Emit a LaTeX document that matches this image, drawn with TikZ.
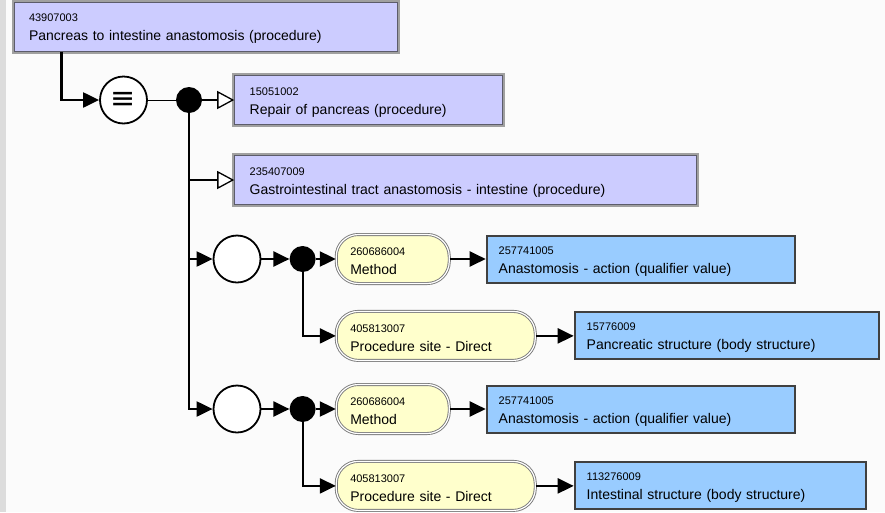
\documentclass[tikz,border=0pt]{standalone}
\usepackage{fontspec}
\setmainfont{Liberation Sans}
\newfontfamily\symfont{DejaVu Sans}
\usetikzlibrary{arrows.meta,positioning}

\definecolor{conceptfill}{HTML}{CCCCFF}
\definecolor{valuefill}{HTML}{99CCFF}
\definecolor{attrfill}{HTML}{FFFFCC}
\definecolor{framegray}{HTML}{A0A0A0}
\definecolor{framedark}{HTML}{5C5C6A}
\definecolor{pillgray}{HTML}{7A7A7A}
\definecolor{valueedge}{HTML}{404040}
\definecolor{canvas}{HTML}{FBFBFB}
\definecolor{sidebar}{HTML}{DCDCDC}

\newcommand{\sctid}[1]{{\fontsize{11}{14}\selectfont\rule{0pt}{12pt}#1}\\}

\tikzset{
  concept/.style={rectangle, fill=conceptfill, draw=framedark, line width=1pt,
    preaction={draw=framegray, line width=5pt},
    minimum height=49pt, inner xsep=15pt, text width=#1, align=left},
  value/.style={rectangle, fill=valuefill, draw=valueedge, line width=2pt,
    minimum height=47pt, inner xsep=12pt, text width=#1, align=left},
  attr/.style={rectangle, rounded corners=22pt, fill=attrfill, draw=pillgray,
    line width=0.9pt, double=white, double distance=1.2pt,
    minimum height=49pt, inner xsep=14pt, text width=#1, align=left},
  defop/.style={circle, draw, fill=white, line width=1.8pt, minimum size=47pt,
    inner sep=0pt, font=\symfont\fontsize{30}{30}\selectfont},
  group/.style={circle, draw, fill=white, line width=1.8pt, minimum size=47pt, inner sep=0pt},
  joint/.style={circle, fill=black, minimum size=26pt, inner sep=0pt},
  link/.style={draw, line width=2.2pt, -{Triangle[length=16pt,width=15pt]}},
  isa/.style={draw, line width=2.2pt,
    -{Triangle[open,length=17pt,width=18pt,line width=1.3pt,fill=white]}}
}

\begin{document}
\begin{tikzpicture}[x=1pt, y=-1pt, font=\fontsize{14}{19}\selectfont]

    \fill[canvas] (0,0) rectangle (885,512);
    \fill[sidebar] (0,0) rectangle (6,512);
    \useasboundingbox (0,0) rectangle (885,512);

    \node[concept=353pt] (pancreas) at (205.5,26.5)
        {\sctid{43907003}Pancreas to intestine anastomosis (procedure)};

    \node[defop] (equiv) at (123.5,100) {≡};
    \node[joint] (and) at (189,100) {};

    \node[concept=238pt, right=32pt of and] (repair)
        {\sctid{15051002}Repair of pancreas (procedure)};
    \node[concept=432pt, below=30pt of repair.south west, anchor=north west] (gitract)
        {\sctid{235407009}Gastrointestinal tract anastomosis - intestine (procedure)};

    \node[group] (role1) at (237,259) {};
    \node[joint, right=28pt of role1] (and1) {};
    \node[attr=85pt, right=20pt of and1] (method1) {\sctid{260686004}Method};
    \node[value=284pt, right=36pt of method1] (action1)
        {\sctid{257741005}Anastomosis - action (qualifier value)};
    \node[attr=171pt, below=27pt of method1.south west, anchor=north west] (site1)
        {\sctid{405813007}Procedure site - Direct};
    \node[value=280pt, right=38pt of site1] (pstruct)
        {\sctid{15776009}Pancreatic structure (body structure)};

    \node[group] (role2) at (237,409) {};
    \node[joint, right=28pt of role2] (and2) {};
    \node[attr=85pt, right=20pt of and2] (method2) {\sctid{260686004}Method};
    \node[value=284pt, right=36pt of method2] (action2)
        {\sctid{257741005}Anastomosis - action (qualifier value)};
    \node[attr=171pt, below=27pt of method2.south west, anchor=north west] (site2)
        {\sctid{405813007}Procedure site - Direct};
    \node[value=267pt, right=38pt of site2] (istruct)
        {\sctid{113276009}Intestinal structure (body structure)};

    \draw[link] ([xshift=48pt]pancreas.south west) |- (equiv);
    \draw[line width=1pt] (equiv) -- (and);
    \draw[isa] (and) -- (repair);
    \draw[isa] (and) |- (gitract);
    \draw[link] (and) |- (role1);
    \draw[link] (and) |- (role2);

    \draw[link] (role1) -- (and1);
    \draw[link] (and1) -- (method1);
    \draw[link] (and1) |- (site1);
    \draw[link] (method1) -- (action1);
    \draw[link] (site1) -- (pstruct);

    \draw[link] (role2) -- (and2);
    \draw[link] (and2) -- (method2);
    \draw[link] (and2) |- (site2);
    \draw[link] (method2) -- (action2);
    \draw[link] (site2) -- (istruct);

\end{tikzpicture}
\end{document}
